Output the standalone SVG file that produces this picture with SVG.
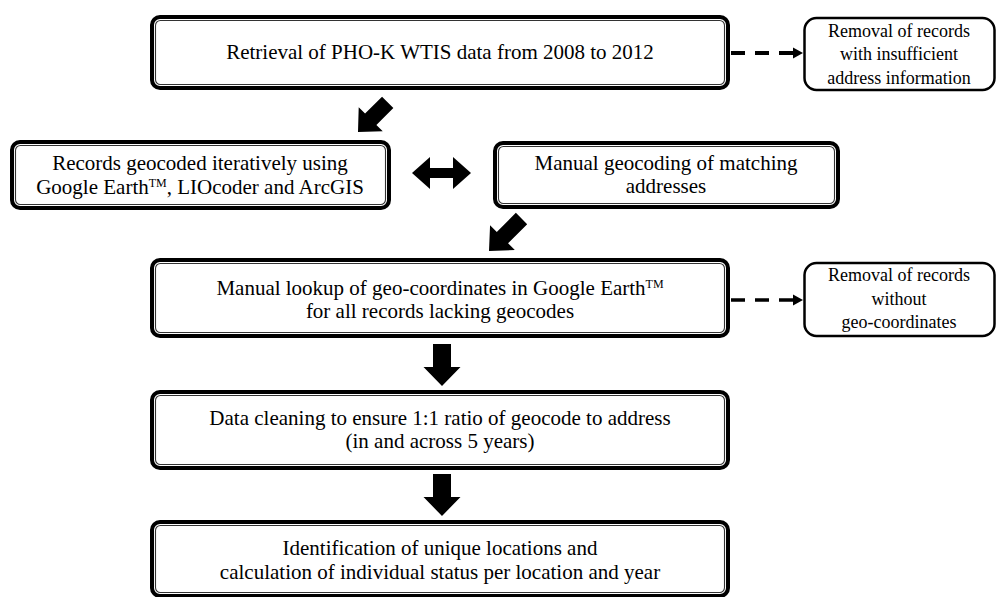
<svg xmlns="http://www.w3.org/2000/svg" width="998" height="597" viewBox="0 0 998 597" font-family="'Liberation Serif', 'DejaVu Serif', 'Times New Roman', serif">
<style>
.outer{fill:#fff;stroke:#000;stroke-width:4}
.inner{fill:none;stroke:#333;stroke-width:1.1}
.side{fill:#fff;stroke:#000;stroke-width:2.5}
text{font-family:'Liberation Serif','DejaVu Serif','Times New Roman',serif;fill:#000;text-anchor:middle}
.t{font-size:21px}
.s{font-size:18px}
.tm{font-size:12px}
.dash{stroke:#000;stroke-width:4;stroke-dasharray:14 10;fill:none}
</style>
<defs>
<polygon id="blk" points="-9,-42 9,-42 9,-19 18.5,-19 0,0 -18.5,-19 -9,-19"/>
<polygon id="diag" points="-8,-42 8,-42 8,-18 17,-18 0,0 -17,-18 -8,-18"/>
<polygon id="diag2" points="-8,-46 8,-46 8,-19 17.5,-19 0,0 -17.5,-19 -8,-19"/>
</defs>

<g id="connectors">
<line class="dash" x1="731" y1="53" x2="795" y2="53"/>
<path d="M793,47.5 L803,53 L793,58.5 Z" fill="#000"/>
<line class="dash" x1="731" y1="300" x2="795" y2="300" style="stroke-width:3.5"/>
<path d="M793,294.5 L803,300 L793,305.5 Z" fill="#000"/>
<use href="#diag" transform="translate(358,132) rotate(45)" fill="#000"/>
<use href="#diag2" transform="translate(489,251) rotate(45)" fill="#000"/>
<polygon points="412,173 430,157 430,168 453,168 453,157 471,173 453,189 453,178 430,178 430,189" fill="#000"/>
<use href="#blk" transform="translate(442,386)" fill="#000"/>
<use href="#blk" transform="translate(442,516)" fill="#000"/>
</g>

<g id="n1">
<rect class="outer" x="152" y="17" width="576" height="71" rx="8"/>
<rect class="inner" x="155.5" y="20.5" width="569" height="64" rx="5"/>
<text class="t" x="440" y="59">Retrieval of PHO-K WTIS data from 2008 to 2012</text>
</g>

<g id="s1">
<rect class="side" x="804.5" y="18" width="190" height="72" rx="12"/>
<text class="s" x="899" y="37">Removal of records</text>
<text class="s" x="899" y="60">with insufficient</text>
<text class="s" x="899" y="84">address information</text>
</g>

<g id="n2">
<rect class="outer" x="12" y="142" width="377" height="66" rx="8"/>
<rect class="inner" x="15.5" y="145.5" width="370" height="59" rx="5"/>
<text class="t" x="200" y="170">Records geocoded iteratively using</text>
<text class="t" x="200" y="194">Google Earth<tspan class="tm" dy="-7">TM</tspan><tspan dy="7">, LIOcoder and ArcGIS</tspan></text>
</g>

<g id="n3">
<rect class="outer" x="495" y="143" width="343" height="64" rx="8"/>
<rect class="inner" x="498.5" y="146.5" width="336" height="57" rx="5"/>
<text class="t" x="666" y="170">Manual geocoding of matching</text>
<text class="t" x="666" y="193">addresses</text>
</g>

<g id="n4">
<rect class="outer" x="152" y="260" width="576" height="76" rx="8"/>
<rect class="inner" x="155.5" y="263.5" width="569" height="69" rx="5"/>
<text class="t" x="440" y="295">Manual lookup of geo-coordinates in Google Earth<tspan class="tm" dy="-7">TM</tspan></text>
<text class="t" x="440" y="318">for all records lacking geocodes</text>
</g>

<g id="s2">
<rect class="side" x="804.5" y="263" width="190" height="73" rx="12"/>
<text class="s" x="899" y="281">Removal of records</text>
<text class="s" x="899" y="305">without</text>
<text class="s" x="899" y="328">geo-coordinates</text>
</g>

<g id="n5">
<rect class="outer" x="152" y="392" width="576" height="76" rx="8"/>
<rect class="inner" x="155.5" y="395.5" width="569" height="69" rx="5"/>
<text class="t" x="440" y="425">Data cleaning to ensure 1:1 ratio of geocode to address</text>
<text class="t" x="440" y="448">(in and across 5 years)</text>
</g>

<g id="n6">
<rect class="outer" x="152" y="522" width="576" height="74" rx="8"/>
<rect class="inner" x="155.5" y="525.5" width="569" height="67" rx="5"/>
<text class="t" x="440" y="555">Identification of unique locations and</text>
<text class="t" x="440" y="579">calculation of individual status per location and year</text>
</g>
</svg>
